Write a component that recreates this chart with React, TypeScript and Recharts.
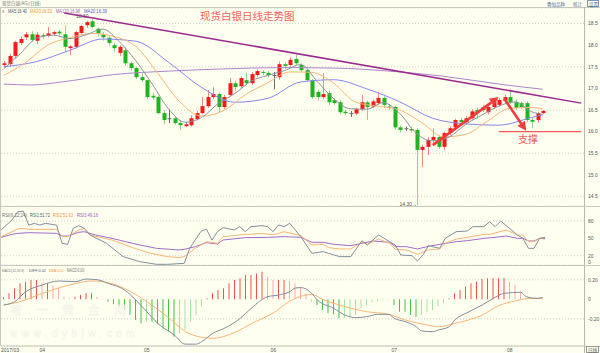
import { ComposedChart, Bar, Line, XAxis, YAxis, CartesianGrid, ReferenceLine, Cell } from "recharts"

const FONT = "Liberation Sans, DejaVu Sans, sans-serif"
const CJK = "Noto Sans CJK SC, sans-serif"
const BG = "#fffff0"

// 99 trading days (2017/03/24 .. 2017/08/08) plus empty room on the right
const N = 106

const opens = [
  17.54, 17.56, 17.75, 18.05, 18.18, 18.25, 18.1, 18.23, 18.21, 18.26, 18.31, 18.25, 17.93, 17.96, 18.28, 18.46, 18.55, 18.38, 18.25, 18.17,
  18.0, 17.82, 17.88, 17.58, 17.47, 17.26, 17.19, 16.83, 16.8, 16.43, 16.31, 16.31, 16.2, 16.13, 16.15, 16.29, 16.43, 16.59, 16.8, 16.87,
  16.57, 16.85, 17.12, 17.05, 17.19, 17.12, 17.31, 17.38, 17.36, 17.31, 17.26, 17.56, 17.54, 17.68, 17.54, 17.42, 17.19, 16.92, 16.8, 16.89,
  16.73, 16.68, 16.46, 16.43, 16.42, 16.52, 16.68, 16.58, 16.66, 16.78, 16.58, 16.57, 16.1, 16.08, 16.06, 16.04, 15.58, 15.65, 15.81, 15.88,
  15.65, 15.97, 16.1, 16.27, 16.22, 16.31, 16.5, 16.57, 16.45, 16.57, 16.62, 16.71, 16.8, 16.68, 16.66, 16.66, 16.27, 16.27, 16.43,
]
const highs = [
  17.63, 17.8, 18.1, 18.2, 18.3, 18.32, 18.3, 18.28, 18.42, 18.33, 18.35, 18.46, 18.0, 18.33, 18.47, 18.56, 18.6, 18.4, 18.3, 18.2,
  18.05, 18.0, 17.95, 17.62, 17.5, 17.35, 17.2, 16.9, 16.83, 16.5, 16.52, 16.34, 16.25, 16.22, 16.38, 16.48, 16.8, 16.96, 17.03, 16.9,
  16.85, 17.24, 17.18, 17.28, 17.36, 17.38, 17.44, 17.42, 17.4, 17.38, 17.62, 17.6, 17.72, 17.78, 17.58, 17.45, 17.22, 16.98, 17.35, 16.95,
  16.78, 16.72, 16.5, 16.48, 16.56, 16.85, 16.72, 16.74, 16.92, 16.82, 16.64, 16.6, 16.14, 16.12, 16.12, 16.08, 15.7, 15.88, 16.08, 15.92,
  16.0, 16.12, 16.3, 16.32, 16.36, 16.52, 16.56, 16.62, 16.6, 16.72, 16.78, 16.85, 16.98, 16.75, 16.7, 16.7, 16.32, 16.46, 16.5,
]
const lows = [
  17.48, 17.5, 17.7, 18.0, 18.12, 18.08, 18.02, 18.15, 18.18, 18.22, 18.22, 17.84, 17.77, 17.92, 18.25, 18.4, 18.38, 18.2, 18.1, 17.98,
  17.85, 17.75, 17.52, 17.4, 17.22, 17.15, 16.76, 16.74, 16.4, 16.18, 16.2, 16.16, 16.04, 16.1, 16.12, 16.26, 16.4, 16.55, 16.76, 16.45,
  16.52, 16.82, 16.95, 17.0, 17.08, 17.08, 17.27, 17.3, 17.26, 16.98, 17.2, 17.45, 17.5, 17.54, 17.38, 17.15, 16.76, 16.72, 16.76, 16.62,
  16.62, 16.4, 16.38, 16.34, 16.38, 16.48, 16.27, 16.55, 16.62, 16.55, 16.5, 16.05, 15.98, 16.02, 15.98, 14.3, 15.18, 15.46, 15.74, 15.6,
  15.58, 15.92, 16.05, 16.15, 16.18, 16.28, 16.3, 16.45, 16.4, 16.52, 16.58, 16.66, 16.64, 16.5, 16.52, 16.22, 16.08, 16.2, 16.4,
]
const closes = [
  17.58, 17.75, 18.07, 18.14, 18.25, 18.12, 18.24, 18.21, 18.27, 18.3, 18.27, 17.96, 17.97, 18.3, 18.44, 18.53, 18.42, 18.27, 18.18, 18.05,
  17.93, 17.96, 17.58, 17.47, 17.26, 17.19, 16.8, 16.79, 16.43, 16.27, 16.3, 16.2, 16.15, 16.17, 16.31, 16.43, 16.59, 16.8, 16.87, 16.57,
  16.8, 17.12, 17.03, 17.24, 17.12, 17.33, 17.4, 17.36, 17.31, 17.3, 17.56, 17.52, 17.66, 17.58, 17.42, 17.19, 16.8, 16.8, 16.87, 16.68,
  16.66, 16.45, 16.43, 16.42, 16.52, 16.68, 16.57, 16.7, 16.78, 16.62, 16.56, 16.1, 16.04, 16.07, 16.03, 15.58, 15.65, 15.81, 15.88, 15.65,
  15.97, 16.08, 16.27, 16.22, 16.31, 16.47, 16.45, 16.5, 16.57, 16.68, 16.73, 16.8, 16.68, 16.55, 16.57, 16.27, 16.23, 16.43, 16.48,
]

// moving averages: [day index, value]
const ma5Pts: [number, number][] = [
  [0, 17.45], [3, 17.8], [6, 18.16], [9, 18.23], [12, 18.15], [15, 18.24], [18, 18.37], [21, 18.08], [24, 17.64], [27, 17.1],
  [30, 16.52], [33, 16.22], [36, 16.33], [39, 16.65], [42, 16.88], [45, 17.17], [48, 17.3], [51, 17.41], [54, 17.55], [57, 17.16],
  [60, 16.76], [63, 16.53], [66, 16.52], [69, 16.67], [72, 16.42], [75, 15.96], [78, 15.79], [81, 15.88], [84, 16.17], [87, 16.39],
  [90, 16.59], [93, 16.69], [96, 16.46], [98, 16.4],
]
const ma10Pts: [number, number][] = [
  [0, 17.3], [4, 17.6], [8, 18.0], [12, 18.17], [16, 18.27], [20, 18.2], [24, 17.97], [28, 17.35], [32, 16.69], [36, 16.36],
  [40, 16.49], [44, 16.86], [48, 17.13], [52, 17.38], [56, 17.37], [60, 17.12], [64, 16.68], [68, 16.59], [72, 16.5], [76, 16.21],
  [80, 15.88], [84, 15.94], [88, 16.25], [92, 16.54], [96, 16.56], [98, 16.53],
]
const ma20Pts: [number, number][] = [
  [0, 17.5], [6, 17.62], [12, 17.88], [18, 18.14], [24, 18.09], [30, 17.6], [36, 17.02], [42, 16.68], [48, 16.77], [54, 17.15],
  [60, 17.2], [66, 16.99], [72, 16.69], [78, 16.31], [84, 16.18], [90, 16.15], [96, 16.33], [98, 16.39],
]
const ma120Pts: [number, number][] = [
  [0, 17.1], [5, 17.08], [10, 17.14], [20, 17.32], [30, 17.4], [40, 17.45], [50, 17.48], [60, 17.47], [70, 17.4], [80, 17.28],
  [90, 17.1], [98, 16.98],
]

const rsi1Pts: [number, number][] = [
  [0, 64.5], [2, 82], [3, 96], [4, 97], [5, 73], [6, 76], [7, 73], [8, 76], [10, 73], [11, 41.5], [12, 39.7], [13, 67.4], [14, 72],
  [15, 67.4], [16, 56], [19, 41.5], [22, 18.5], [25, 9.8], [28, 5.2], [30, 5.2], [33, 6.9], [34, 33], [36, 62], [37, 66], [38, 47],
  [39, 62], [40, 68.6], [42, 64.5], [43, 70.3], [44, 61.6], [45, 70.3], [47, 72], [48, 70.3], [49, 61.6], [50, 73.2], [51, 70.3],
  [52, 76], [53, 64.5], [54, 53], [55, 38.6], [56, 24.2], [58, 27], [59, 24.2], [61, 18.5], [63, 18.5], [65, 46], [66, 38.6], [68, 56],
  [70, 44.3], [71, 38.6], [72, 21.3], [74, 20.2], [75, 11], [76, 21.3], [77, 37.4], [79, 32.8], [80, 50], [82, 61.6], [84, 62.8],
  [85, 70.3], [87, 70.3], [88, 78.9], [89, 70.3], [90, 80], [93, 56], [94, 50], [95, 32.8], [96, 32.8], [97, 50], [98, 51.72],
]
const rsi2Pts: [number, number][] = [
  [0, 53], [2, 61.6], [3, 66.3], [4, 67.4], [5, 65.7], [10, 65.7], [11, 53], [12, 53], [14, 64.5], [15, 67.4], [16, 56], [20, 47.2],
  [24, 32.8], [27, 24.2], [30, 18.5], [32, 16.7], [33, 18.5], [35, 32.8], [37, 44.3], [39, 41.5], [40, 53], [43, 56], [47, 58.7],
  [49, 56], [51, 61.6], [54, 54.7], [56, 38.6], [58, 39.7], [59, 34], [61, 31.7], [63, 31.7], [65, 43.2], [66, 39.7], [68, 48.9],
  [70, 41.5], [71, 31.1], [73, 30], [75, 22.5], [77, 30], [79, 31.7], [80, 41.5], [82, 48.9], [84, 51.8], [87, 57], [88, 57],
  [91, 64.5], [93, 55.9], [94, 55.9], [95, 44.3], [96, 44.3], [97, 50], [98, 51.63],
]
const rsi3Pts: [number, number][] = [
  [0, 51.8], [2, 57], [3, 58.7], [5, 59.9], [10, 58.7], [11, 54.1], [12, 54.1], [14, 60.5], [15, 61.6], [17, 55.9], [20, 50],
  [25, 38.6], [28, 32.8], [32, 30], [33, 31.1], [35, 35.7], [37, 42.6], [39, 40.3], [40, 47.2], [44, 51.3], [48, 51.8], [51, 53],
  [54, 51.8], [56, 43.2], [58, 43.2], [60, 39.7], [63, 37.4], [65, 41.5], [67, 45.5], [70, 43.2], [71, 35.7], [73, 35.7], [75, 31.7],
  [77, 36.3], [79, 39.7], [82, 44.3], [84, 46.1], [87, 50.1], [89, 51.8], [91, 54.1], [93, 50.1], [94, 50.1], [95, 45.5], [96, 45.5],
  [97, 50.1], [98, 49.16],
]

const macdHist = [
  0.02, 0.061, 0.113, 0.164, 0.181, 0.198, 0.198, 0.164, 0.164, 0.14, 0.113, 0.027, 0.01, 0.027, 0.044, 0.061, 0.061, 0.027, 0.003, -0.024,
  -0.051, -0.075, -0.11, -0.161, -0.212, -0.247, -0.229, -0.229, -0.257, -0.298, -0.332, -0.383, -0.349, -0.315, -0.229, -0.161, -0.075, 0.01, 0.061, 0.095,
  0.113, 0.164, 0.198, 0.215, 0.249, 0.249, 0.266, 0.283, 0.232, 0.198, 0.198, 0.198, 0.188, 0.164, 0.13, 0.061, -0.024, -0.058, -0.11, -0.144,
  -0.154, -0.195, -0.188, -0.178, -0.161, -0.092, -0.058, -0.031, -0.017, -0.007, -0.004, -0.058, -0.127, -0.127, -0.161, -0.178, -0.161, -0.127, -0.11, -0.075,
  -0.041, 0.01, 0.061, 0.095, 0.13, 0.164, 0.181, 0.208, 0.215, 0.215, 0.215, 0.222, 0.181, 0.147, 0.078, 0.017, 0.01, 0.01, 0.005,
]
const diffPts: [number, number][] = [
  [0, -0.058], [2, -0.024], [4, 0.078], [7, 0.147], [10, 0.188], [13, 0.181], [15, 0.208], [17, 0.201], [19, 0.163], [22, 0.095],
  [24, -0.007], [26, -0.127], [28, -0.247], [31, -0.366], [33, -0.46], [35, -0.46], [36, -0.434], [38, -0.349], [40, -0.3], [43, -0.195],
  [45, -0.092], [48, 0.027], [50, 0.044], [52, 0.078], [53, 0.115], [54, 0.12], [56, 0.061], [57, -0.007], [60, -0.092], [62, -0.161],
  [64, -0.188], [66, -0.178], [68, -0.154], [70, -0.154], [71, -0.195], [73, -0.229], [75, -0.281], [76, -0.325], [78, -0.332], [79, -0.315],
  [81, -0.281], [82, -0.212], [84, -0.144], [87, -0.058], [89, 0.01], [91, 0.061], [94, 0.072], [95, 0.027], [97, 0.01], [98, 0.02],
]
const deaPts: [number, number][] = [
  [0, -0.058], [3, -0.024], [7, 0.061], [12, 0.147], [16, 0.188], [19, 0.17], [22, 0.11], [26, -0.024], [30, -0.19], [33, -0.33],
  [36, -0.39], [38, -0.4], [42, -0.34], [45, -0.25], [49, -0.14], [52, -0.02], [54, 0.03], [56, 0.05], [58, 0.0], [62, -0.075],
  [66, -0.127], [70, -0.154], [73, -0.212], [77, -0.264], [79, -0.281], [82, -0.247], [87, -0.161], [90, -0.065], [93, -0.017],
  [96, 0.01], [98, 0.01],
]

const priceTicks = [14.5, 15, 15.5, 16, 16.5, 17, 17.5, 18, 18.5]
const rsiTicks = [20, 50, 80]
const macdTicks = [-0.2, 0, 0.2]
const monthIdx = [0, 7, 26, 49, 71, 92]
const monthLabels = ["2017/03", "04", "05", "06", "07", "08"]

const trendLine = [{ x: 11, y: 18.74 }, { x: 105, y: 16.66 }]
const supportLine = [{ x: 90, y: 16 }, { x: 105, y: 16 }]
const arrowUp = [{ x: 78, y: 15.69 }, { x: 90, y: 16.8 }]
const arrowDown = [{ x: 91, y: 16.76 }, { x: 95, y: 16.02 }]

const spread = (pts: [number, number][]) => {
  const a: (number | null)[] = Array(N).fill(null)
  pts.forEach(([i, v]) => (a[i] = v))
  return a
}

const ma5 = spread(ma5Pts)
const ma10 = spread(ma10Pts)
const ma20 = spread(ma20Pts)
const ma120 = spread(ma120Pts)
const rsi1 = spread(rsi1Pts)
const rsi2 = spread(rsi2Pts)
const rsi3 = spread(rsi3Pts)
const diff = spread(diffPts)
const dea = spread(deaPts)

const priceRows = Array.from({ length: N }, (_, i) => ({
  i,
  range: i < opens.length ? [lows[i], highs[i]] : null,
  o: opens[i],
  h: highs[i],
  l: lows[i],
  c: closes[i],
  ma5: ma5[i],
  ma10: ma10[i],
  ma20: ma20[i],
  ma120: ma120[i],
}))
const rsiRows = Array.from({ length: N }, (_, i) => ({ i, rsi1: rsi1[i], rsi2: rsi2[i], rsi3: rsi3[i] }))
const macdRows = Array.from({ length: N }, (_, i) => ({ i, macd: i < macdHist.length ? macdHist[i] : null, diff: diff[i], dea: dea[i] }))

const hiIdx = highs.indexOf(Math.max(...highs))
const loIdx = lows.indexOf(Math.min(...lows))

function Candle(props: any) {
  const { x, y, width, height, payload } = props
  if (!payload || payload.o == null) return null
  const { o, c, h, l } = payload
  const top = Math.min(y, y + height)
  const span = Math.abs(height)
  const py = (v: number) => (h === l ? top : top + ((h - v) / (h - l)) * span)
  const cx = Math.round(x + width / 2) + 0.5
  const up = c > o + 0.015
  const down = c < o - 0.015
  const body = up ? "#f21a1a" : down ? "#1fb41f" : "#6a6a6a"
  const wick = up ? "#f58a8a" : down ? "#8ad88a" : "#6a6a6a"
  const yTop = py(Math.max(o, c))
  const yBot = py(Math.min(o, c))
  return (
    <g>
      <line x1={cx} x2={cx} y1={top} y2={top + span} stroke={wick} strokeWidth={1} />
      <rect x={cx - 2} y={yTop} width={4} height={Math.max(1, yBot - yTop)} fill={body} />
      {payload.i === hiIdx && (
        <text x={cx - 4} y={top - 1} fontSize={5} fill="#555" textAnchor="end" fontFamily={FONT}>
          {h.toFixed(2)}
        </text>
      )}
      {payload.i === loIdx && (
        <text x={cx - 0.5} y={top + span + 0.5} fontSize={5} fill="#555" textAnchor="end" fontFamily={FONT}>
          {l.toFixed(2) + "→"}
        </text>
      )}
    </g>
  )
}

function ArrowShape(p: any) {
  const { x1, y1, x2, y2 } = p
  if (x1 == null || x2 == null) return null
  const ang = Math.atan2(y2 - y1, x2 - x1)
  const len = 9
  const half = 4.5
  const bx = x2 - len * Math.cos(ang)
  const by = y2 - len * Math.sin(ang)
  const nx = -Math.sin(ang) * half
  const ny = Math.cos(ang) * half
  return (
    <g>
      <line x1={x1} y1={y1} x2={bx} y2={by} stroke="#f03c3c" strokeWidth={2.6} />
      <polygon points={`${x2},${y2} ${bx + nx},${by + ny} ${bx - nx},${by - ny}`} fill="#f03c3c" />
    </g>
  )
}

const lineProps = { dot: false, activeDot: false, connectNulls: true, isAnimationActive: false } as const
const axisTick = { fontSize: 5, fill: "#555", fontFamily: FONT }

function MonthTick(p: any) {
  const k = monthIdx.indexOf(p.payload?.value)
  if (k < 0) return null
  return (
    <text x={p.x - 2.75} y={p.y + 5.5} fontSize={5} fill="#555" fontFamily={FONT}>
      {monthLabels[k]}
    </text>
  )
}

const histColor = (i: number) => {
  const v = macdHist[i]
  if (v == null) return "none"
  const prev = i > 0 ? macdHist[i - 1] : 0
  if (v >= 0) return v >= prev ? "#f25252" : "#f7aaaa"
  return Math.abs(v) >= Math.abs(prev) ? "#48c048" : "#a8e2a0"
}

// tiny legend text squeezed to the width it takes in the original
const Tiny = ({ x, y, w, color, size = 4.6, children }: { x: number; y: number; w: number; color: string; size?: number; children: string }) => (
  <text x={x} y={y} fontSize={size} fill={color} fontFamily={FONT} textLength={w} lengthAdjust="spacingAndGlyphs">
    {children}
  </text>
)

export default function App() {
  return (
    <div style={{ position: "absolute", left: 0, top: 0, width: 600, height: 353, background: BG, overflow: "hidden" }}>
      <div style={{ position: "absolute", left: 0, top: 8 }}>
        <ComposedChart width={600} height={198} data={priceRows} margin={{ top: 0, right: 0, bottom: 0, left: 1 }}>
          <CartesianGrid vertical={false} stroke="#d2d2c6" strokeDasharray="1 2" />
          <XAxis dataKey="i" hide />
          <YAxis
            orientation="right"
            width={16}
            domain={[14.284, 18.857]}
            ticks={priceTicks}
            allowDataOverflow
            axisLine={false}
            tickLine={false}
            tickSize={2}
            tickMargin={2}
            tick={axisTick}
            tickFormatter={(v: number) => v.toFixed(1)}
          />
          <Bar dataKey="range" barSize={4} shape={Candle} isAnimationActive={false} />
          <Line dataKey="ma120" type="monotone" stroke="#ad84cc" strokeWidth={1} {...lineProps} />
          <Line dataKey="ma20" type="monotone" stroke="#8686ee" strokeWidth={1} {...lineProps} />
          <Line dataKey="ma10" type="monotone" stroke="#f7b676" strokeWidth={1} {...lineProps} />
          <Line dataKey="ma5" type="monotone" stroke="#8a929c" strokeWidth={1} {...lineProps} />
          <ReferenceLine segment={trendLine} stroke="#9b2a8e" strokeWidth={1.5} ifOverflow="visible" />
          <ReferenceLine segment={supportLine} stroke="#f05a5a" strokeWidth={1.2} ifOverflow="visible" />
          <ReferenceLine segment={arrowUp} shape={ArrowShape} ifOverflow="visible" />
          <ReferenceLine segment={arrowDown} shape={ArrowShape} ifOverflow="visible" />
        </ComposedChart>
      </div>

      <div style={{ position: "absolute", left: 0, top: 206 }}>
        <ComposedChart width={600} height={59} data={rsiRows} margin={{ top: 0, right: 0, bottom: 0, left: 1 }}>
          <CartesianGrid vertical={false} stroke="#d2d2c6" strokeDasharray="1 2" />
          <XAxis dataKey="i" hide />
          <YAxis
            orientation="right"
            width={16}
            domain={[4, 106]}
            ticks={rsiTicks}
            allowDataOverflow
            axisLine={false}
            tickLine={false}
            tickSize={2}
            tickMargin={2}
            tick={axisTick}
          />
          <Line dataKey="rsi3" type="linear" stroke="#a06cca" strokeWidth={1} {...lineProps} />
          <Line dataKey="rsi2" type="linear" stroke="#f7b676" strokeWidth={1} {...lineProps} />
          <Line dataKey="rsi1" type="linear" stroke="#848e9a" strokeWidth={1} {...lineProps} />
        </ComposedChart>
      </div>

      <div style={{ position: "absolute", left: 0, top: 265 }}>
        <ComposedChart width={600} height={88} data={macdRows} margin={{ top: 0, right: 0, bottom: 0, left: 1 }}>
          <CartesianGrid vertical={false} stroke="#d2d2c6" strokeDasharray="1 2" />
          <XAxis
            dataKey="i"
            height={7}
            ticks={monthIdx}
            interval={0}
            tickLine={false}
            tickSize={0}
            tickMargin={0}
            axisLine={{ stroke: "#c4c4ba" }}
            tick={MonthTick}
          />
          <YAxis
            orientation="right"
            width={16}
            domain={[-0.479, 0.352]}
            ticks={macdTicks}
            allowDataOverflow
            axisLine={false}
            tickLine={false}
            tickSize={2}
            tickMargin={2}
            tick={axisTick}
            tickFormatter={(v: number) => (v === 0 ? "0" : v.toFixed(2))}
          />
          <Bar dataKey="macd" barSize={1} isAnimationActive={false}>
            {macdRows.map((r) => (
              <Cell key={r.i} fill={histColor(r.i)} />
            ))}
          </Bar>
          <Line dataKey="dea" type="monotone" stroke="#f7b676" strokeWidth={1} {...lineProps} />
          <Line dataKey="diff" type="monotone" stroke="#848e9a" strokeWidth={1} {...lineProps} />
        </ComposedChart>
      </div>

      <svg width={600} height={353} style={{ position: "absolute", left: 0, top: 0, pointerEvents: "none" }}>
        <line x1={0} x2={600} y1={7.5} y2={7.5} stroke="#c8c8be" />
        <line x1={0.5} x2={0.5} y1={7.5} y2={346} stroke="#c8c8be" />
        <line x1={584.5} x2={584.5} y1={7.5} y2={353} stroke="#b8b8ae" />
        <line x1={0} x2={600} y1={206.5} y2={206.5} stroke="#c8c8be" />
        <line x1={0} x2={600} y1={265.5} y2={265.5} stroke="#c8c8be" />
        <line x1={584} x2={600} y1={346.5} y2={346.5} stroke="#b8b8ae" />

        <text x={2} y={5} fontSize={4.5} fill="#777" fontFamily={CJK}>现货白银(AG)(日线)</text>
        <text x={547} y={5.5} fontSize={4.5} fill="#4a6da0" fontFamily={CJK}>叠加品种</text>
        <text x={573} y={5.5} fontSize={4.5} fill="#4a6da0" fontFamily={CJK}>统计</text>
        <rect x={587.5} y={0.5} width={11} height={6} fill="none" stroke="#7d95b8" />
        <text x={589} y={5.5} fontSize={4.5} fill="#4a6da0" fontFamily={CJK}>设置</text>

        <text x={2} y={13} fontSize={5} fill="#777" fontFamily={FONT}>x</text>
        <Tiny x={8} y={13} w={19} color="#4e5a72">MA5:16.40</Tiny>
        <Tiny x={30} y={13} w={22} color="#f0963c">MA10:16.53</Tiny>
        <Tiny x={56} y={13} w={24} color="#9a5cb4">MA120:16.98</Tiny>
        <Tiny x={84} y={13} w={23} color="#5a5ad0">MA20:16.39</Tiny>

        <text x={200} y={20} fontSize={10.5} fill="#f26262" fontFamily={CJK}>现货白银日线走势图</text>
        <text x={518} y={143} fontSize={10} fill="#f05a5a" fontFamily={CJK}>支撑</text>

        <Tiny x={2} y={217} w={25} color="#777">RSI(6,12,24)</Tiny>
        <Tiny x={30} y={217} w={20} color="#4e5a72">RSI1:51.72</Tiny>
        <Tiny x={53} y={217} w={20} color="#f0963c">RSI2:51.63</Tiny>
        <Tiny x={77} y={217} w={21} color="#9a5cb4">RSI3:49.16</Tiny>
        <text x={588} y={264} fontSize={5} fill="#555" fontFamily={FONT}>0</text>

        <Tiny x={2} y={271.5} w={22} size={3.7} color="#777">MACD(12,26,9)</Tiny>
        <Tiny x={29} y={271.5} w={17} size={4.2} color="#4e5a72">DIFF:0.02</Tiny>
        <Tiny x={49} y={271.5} w={15} size={3.9} color="#f0963c">DEA:0.01</Tiny>
        <Tiny x={67} y={271.5} w={17} color="#777">MACD:0.00</Tiny>

        <g fill="#ffffff" stroke="#eeeee2" strokeWidth={0.4} opacity={0.85}>
          <text x={10} y={315} fontSize={12} fontFamily={CJK} letterSpacing={14}>第一黄金网</text>
          <text x={10} y={337} fontSize={10} fontFamily={FONT} letterSpacing={4.5}>www.dyhjw.com</text>
        </g>

        <rect x={586.5} y={346.5} width={12} height={6} fill="none" stroke="#9a9a90" />
        <text x={588} y={352} fontSize={4.5} fill="#555" fontFamily={CJK}>日线</text>
      </svg>
    </div>
  )
}
